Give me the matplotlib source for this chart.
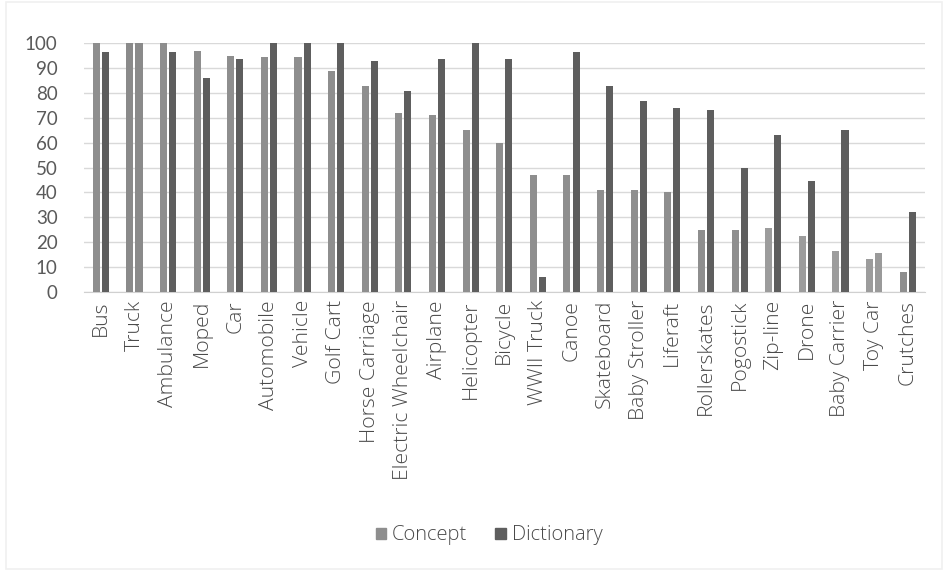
import numpy as np
import matplotlib
matplotlib.use("Agg")
import matplotlib.pyplot as plt

plt.rcParams['font.family'] = ['Open Sans', 'DejaVu Sans']
plt.rcParams['font.weight'] = 'light'

categories = ['Bus', 'Truck', 'Ambulance', 'Moped', 'Car', 'Automobile', 'Vehicle',
              'Golf Cart', 'Horse Carriage', 'Electric Wheelchair', 'Airplane',
              'Helicopter', 'Bicycle', 'WWII Truck', 'Canoe', 'Skateboard',
              'Baby Stroller', 'Liferaft', 'Rollerskates', 'Pogostick', 'Zip-line',
              'Drone', 'Baby Carrier', 'Toy Car', 'Crutches']
concept = [100, 100, 100, 97, 95, 94.5, 94.5, 89, 83, 72, 71, 65, 60, 47, 47,
           41, 41, 40, 25, 25, 25.5, 22.5, 16.5, 13, 8]
dictionary = [96.5, 100, 96.5, 86, 93.7, 100, 100, 100, 93, 81, 93.7, 100, 93.7,
              6, 96.5, 83, 77, 74, 73, 50, 63, 44.5, 65, 15.5, 32]

# bars that print as flat grey instead of dotted
flat_concept = {'Truck', 'Zip-line', 'Drone', 'Baby Carrier', 'Toy Car'}
flat_dictionary = {'Truck', 'Toy Car'}

text_col = '#4a4a4a'
x = np.arange(len(categories))
w = 0.21
off = 0.135

c_cols = []
for c in categories:
    if c == 'Truck':
        c_cols.append('#8a8a8a')
    elif c in flat_concept:
        c_cols.append('#9c9c9c')
    else:
        c_cols.append('#8e8e8e')
d_cols = []
for c in categories:
    if c == 'Truck':
        d_cols.append('#8a8a8a')
    elif c in flat_dictionary:
        d_cols.append('#9a9a9a')
    else:
        d_cols.append('#5e5e5e')

fig = plt.figure(figsize=(9.46, 5.72), dpi=100)
# faint frame round the chart
fig.patches.append(plt.Rectangle((0.006, 0.006), 0.99, 0.99, transform=fig.transFigure,
                                 fill=False, edgecolor='#f0f0f0', linewidth=1.2))
ax = fig.add_axes([0.0888, 0.490, 0.8885, 0.434])

ax.bar(x - off, concept, w, color=c_cols, label='Concept', zorder=3)
ax.bar(x + off, dictionary, w, color=d_cols, label='Dictionary', zorder=3)

ax.set_xlim(-0.5, len(categories) - 0.5)
ax.set_ylim(0, 100)
ax.set_yticks(np.arange(0, 101, 10))
ax.set_xticks(x)
ax.set_xticklabels(categories, rotation=90, fontsize=15.2)
for t in ax.get_yticklabels():
    t.set_family(['Lato', 'DejaVu Sans'])
    t.set_fontweight('normal')
    t.set_fontsize(13.5)
ax.tick_params(axis='both', length=0, colors=text_col)
ax.tick_params(axis='y', colors='#5a5a5a')
ax.tick_params(axis='x', pad=6)
ax.tick_params(axis='y', pad=19)
ax.grid(axis='y', color='#d9d9d9', linewidth=1, zorder=0)
for s in ['top', 'right', 'left']:
    ax.spines[s].set_visible(False)
ax.spines['bottom'].set_color('#d0d0d0')

handles = [plt.Rectangle((0, 0), 1, 1, color='#8e8e8e'),
           plt.Rectangle((0, 0), 1, 1, color='#5e5e5e')]
leg = fig.legend(handles, ['Concept', 'Dictionary'], loc='center',
                 bbox_to_anchor=(0.517, 0.064), ncol=2, frameon=False,
                 handlelength=0.5, handleheight=0.5, handletextpad=0.3,
                 columnspacing=1.4, fontsize=14.5)
for t in leg.get_texts():
    t.set_color(text_col)

fig.savefig('out.png', dpi=100)
